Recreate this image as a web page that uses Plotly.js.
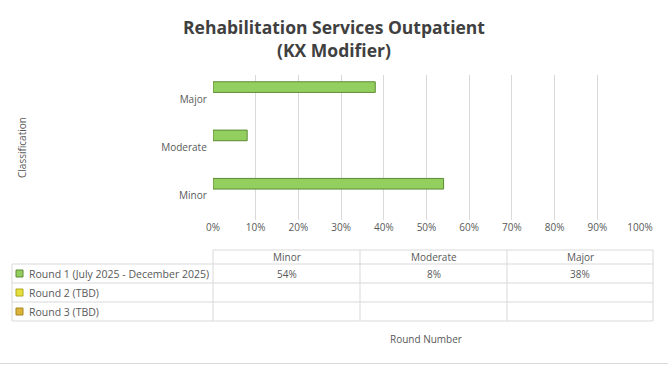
<!DOCTYPE html>
<html><head><meta charset="utf-8">
<script src="https://cdn.plot.ly/plotly-3.0.1.min.js"></script>
<style>html,body{margin:0;padding:0;background:#fff}#c{width:668px;height:365px}</style>
</head><body><div id="c"></div>
<script>
const categories = ['Minor','Moderate','Major'];
const seriesNames = ['Round 1 (July 2025 - December 2025)','Round 2 (TBD)','Round 3 (TBD)'];
const round1 = [0.54, 0.08, 0.38];
const round2 = [null, null, null];
const round3 = [null, null, null];
const xTicks = [0,0.1,0.2,0.3,0.4,0.5,0.6,0.7,0.8,0.9,1.0];

const W = 668, H = 365;
const L = 213, R = 640, T = 75, B = 220;
const px = x => (x - L) / (R - L);
const py = y => (B - y) / (B - T);
const grid = '#d9d9d9', txt = '#595959', font = 'Open Sans, Liberation Sans, sans-serif';
const seriesColors = ['#93cf5e','#e6e03c','#dcb43a'];
const seriesLines = ['#5d8a34','#b0a820','#a88420'];
const allSeries = [round1, round2, round3];
const barW = 0.22, barOff0 = -0.36;

const traces = allSeries.map((vals, i) => ({
  type: 'bar', orientation: 'h', name: seriesNames[i],
  y: categories, x: vals, width: barW, offset: barOff0 + i * barW,
  marker: {color: seriesColors[i], line: {color: seriesLines[i], width: 1}},
  hoverinfo: 'skip'
}));

const shapes = [], annotations = [];
const line = (x0,y0,x1,y1) => shapes.push({type:'line', xref:'paper', yref:'paper',
  x0:px(x0), y0:py(y0), x1:px(x1), y1:py(y1), line:{color:grid, width:1}});
const text = (x,y,t,opts) => annotations.push(Object.assign({xref:'paper', yref:'paper',
  x:px(x), y:py(y), text:t, showarrow:false, xanchor:'center', yanchor:'middle',
  font:{family:font, size:10, color:txt}}, opts||{}));

// data table
const colX = [213, 360, 507, 653];
const rowY = [250, 264, 283, 302, 321];
line(213, rowY[0], 653, rowY[0]);
for (let r = 1; r < rowY.length; r++) line(12, rowY[r], 653, rowY[r]);
colX.forEach(x => line(x, rowY[0], x, rowY[4]));
line(12, rowY[1], 12, rowY[4]);
categories.forEach((c, j) => {
  const cx = (colX[j] + colX[j+1]) / 2;
  text(cx, (rowY[0]+rowY[1])/2, c);
  allSeries.forEach((vals, i) => {
    if (vals[j] != null) text(cx, (rowY[i+1]+rowY[i+2])/2, Math.round(vals[j]*100) + '%');
  });
});
seriesNames.forEach((n, i) => {
  const cy = (rowY[i+1]+rowY[i+2])/2;
  shapes.push({type:'rect', xref:'paper', yref:'paper', x0:px(16), x1:px(23), y0:py(cy-3.5), y1:py(cy+3.5),
    fillcolor: seriesColors[i], line:{color: seriesLines[i], width:1}});
  text(27, cy, n, {xanchor:'left', font:{family:font, size:10.5, color:txt}});
});
text(426, 339, 'Round Number');
text(22, 148, 'Classification', {textangle:-90});
shapes.push({type:'line', xref:'paper', yref:'paper', x0:px(0), x1:px(668), y0:py(363.5), y1:py(363.5), line:{color:grid, width:1}});

const layout = {
  width: W, height: H,
  margin: {l: L, r: W - R, t: T, b: H - B, pad: 0},
  paper_bgcolor: '#fff', plot_bgcolor: '#fff',
  showlegend: false,
  barmode: 'group',
  title: {text: '<b>Rehabilitation Services Outpatient<br>(KX Modifier)</b>',
    x: 0.5, xanchor: 'center', y: 1 - 34/H, yanchor: 'middle',
    font: {family: font, size: 17.5, color: '#404040'}},
  xaxis: {range: [0, 1], tickvals: xTicks, tickformat: '.0%', showgrid: true, gridcolor: grid,
    zeroline: false, showline: false, ticks: '', ticklen: 0,
    tickfont: {family: font, size: 10, color: txt}, fixedrange: true},
  yaxis: {type: 'category', categoryorder: 'array', categoryarray: ['Major','Moderate','Minor'],
    range: [2.5, -0.5], autorange: false, showgrid: false, zeroline: false, showline: false,
    ticks: '', ticksuffix: '  ', tickfont: {family: font, size: 10, color: txt}, fixedrange: true},
  shapes: shapes, annotations: annotations
};
Plotly.newPlot('c', traces, layout, {displayModeBar: false, staticPlot: true});
</script></body></html>
